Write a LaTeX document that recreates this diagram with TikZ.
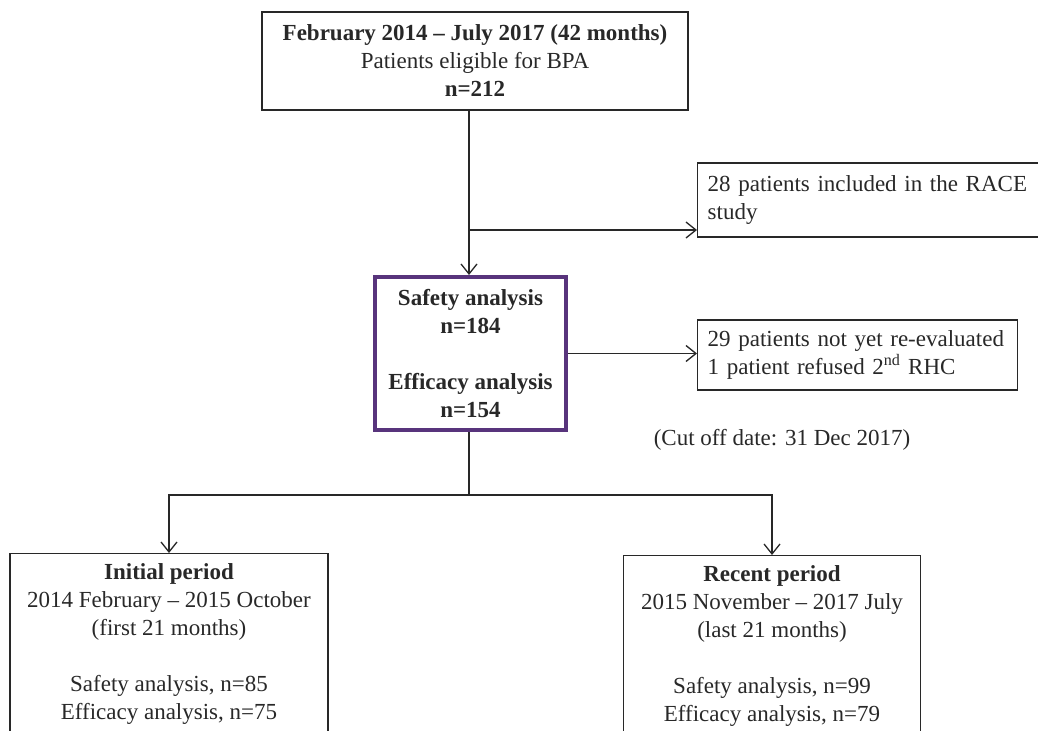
\documentclass[tikz,border=0pt]{standalone}
\usepackage{fontspec}
\setmainfont{Liberation Serif}
\usetikzlibrary{arrows.meta}
\definecolor{boxpurple}{RGB}{88,52,124}
\definecolor{inkgray}{RGB}{40,40,40}

\begin{document}
\begin{tikzpicture}[
  every node/.style={font=\fontsize{23bp}{28bp}\selectfont,text=inkgray},
  plainbox/.style={draw=inkgray,line width=1.3bp,inner xsep=10bp,inner ysep=7bp},
  keybox/.style={draw=boxpurple,line width=4bp,inner xsep=8bp,inner ysep=8bp},
  flow/.style={draw=inkgray,line width=1.3bp},
  flowarrow/.style={flow,-{Straight Barb[length=10bp,width=16bp,line width=1.3bp]}}
]
\path[use as bounding box,clip] (0bp,0bp) rectangle (1038bp,-731bp);

\node (eligible) at (475bp,-61bp)[plainbox,align=center,minimum width=426bp,minimum height=98bp] {\textbf{February 2014 -- July 2017 (42 months)}\\Patients eligible for BPA\\\textbf{n=212}};
\node (race) at (697bp,-200bp)[plainbox,anchor=west,align=left,text width=340bp,minimum height=74bp] {28 patients included in the RACE\\study};
\node (analysis) at (470.5bp,-353.5bp)[keybox,align=center,minimum width=191bp,minimum height=153bp] {\textbf{Safety analysis}\\\textbf{n=184}\\[28bp]\textbf{Efficacy analysis}\\\textbf{n=154}};
\node (pending) at (697bp,-355bp)[plainbox,anchor=west,align=left,text width=300bp,minimum height=70bp] {29 patients not yet re-evaluated\\1 patient refused 2\textsuperscript{nd} RHC};
\node (cutoff) at (782bp,-440bp) {(Cut off date: 31 Dec 2017)};
\node (initial) at (169bp,-553bp)[plainbox,anchor=north,align=center,minimum width=318bp,inner ysep=10bp] {\textbf{Initial period}\\2014 February -- 2015 October\\(first 21 months)\\[28bp]Safety analysis, n=85\\Efficacy analysis, n=75};
\node (recent) at (772bp,-555bp)[plainbox,anchor=north,align=center,minimum width=297bp,inner ysep=10bp] {\textbf{Recent period}\\2015 November -- 2017 July\\(last 21 months)\\[28bp]Safety analysis, n=99\\Efficacy analysis, n=79};

\coordinate (split) at (469bp,-495bp);
\coordinate (raceturn) at (469bp,-230bp);
\draw [flowarrow] (eligible.south -| split) to (analysis.north -| split);
\draw [flowarrow] (raceturn) to (race.west |- raceturn);
\draw [flowarrow] (analysis.east) to (pending.west |- analysis.east);
\draw [flow] (analysis.south -| split) to (split);
\draw [flowarrow] (split) -| (initial.north);
\draw [flowarrow] (split) -| (recent.north);
\end{tikzpicture}
\end{document}
